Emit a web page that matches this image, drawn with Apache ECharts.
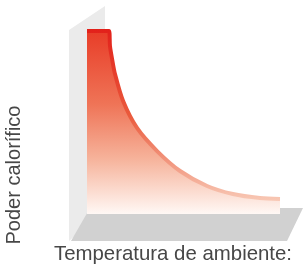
<!DOCTYPE html>
<html>
<head>
<meta charset="utf-8">
<script src="https://cdn.jsdelivr.net/npm/echarts@6/dist/echarts.min.js"></script>
<style>
html,body{margin:0;padding:0;background:#fff;}
#c{width:303px;height:273px;}
</style>
</head>
<body>
<div id="c"></div>
<script>
// Ambient temperature (relative units, 0–100)
var temperature = [0, 11.4, 11.9, 13.0, 14.5, 18.7, 25.9, 36.3, 48.2, 62.2, 75.6, 89.6, 100];
// Heating power (relative units, 0–100)
var heatingPower = [100, 100, 91.8, 84.7, 76.5, 61.7, 47.0, 34.4, 23.5, 15.3, 10.9, 8.7, 8.2];
var xAxisTitle = 'Temperatura de ambiente:';
var yAxisTitle = 'Poder calorífico';

var chart = echarts.init(document.getElementById('c'), null, {renderer: 'canvas'});
var seriesData = temperature.map(function (t, i) { return [t, heatingPower[i]]; });

var option = {
  animation: false,
  grid: {left: 87, right: 23, top: 31, bottom: 59},
  xAxis: {type: 'value', min: 0, max: 100, show: false},
  yAxis: {type: 'value', min: 0, max: 100, show: false},
  graphic: [
    {type: 'polygon', z: 0, shape: {points: [[69, 30], [105, 6], [105, 210], [69, 241]]}, style: {fill: '#ebebeb'}},
    {type: 'polygon', z: 0, shape: {points: [[90, 208], [303, 208], [287, 241], [71, 241]]}, style: {fill: '#d1d1d1'}},
    {type: 'text', z: 5, x: 173, y: 264, style: {text: xAxisTitle, fill: '#474747', font: '20.4px "Liberation Sans", Arial, sans-serif', textAlign: 'center', textVerticalAlign: 'bottom'}},
    {type: 'text', z: 5, x: 24, y: 175, rotation: Math.PI / 2, style: {text: yAxisTitle, fill: '#474747', font: '20px "Liberation Sans", Arial, sans-serif', textAlign: 'center', textVerticalAlign: 'bottom'}}
  ],
  series: [{
    type: 'line',
    data: seriesData,
    smooth: 0.3,
    showSymbol: false,
    z: 3,
    lineStyle: {
      width: 4,
      color: new echarts.graphic.LinearGradient(0, 0, 0, 1, [
        {offset: 0, color: '#e2201a'},
        {offset: 0.5, color: '#ea5a3c'},
        {offset: 1, color: '#f8c9b6'}
      ])
    },
    areaStyle: {
      opacity: 1,
      color: new echarts.graphic.LinearGradient(0, 0, 0, 1, [
        {offset: 0, color: '#e83d28'},
        {offset: 0.4, color: '#ef7457'},
        {offset: 0.7, color: '#f6b39b'},
        {offset: 1, color: '#fff8f5'}
      ])
    }
  }]
};
chart.setOption(option);
</script>
</body>
</html>
